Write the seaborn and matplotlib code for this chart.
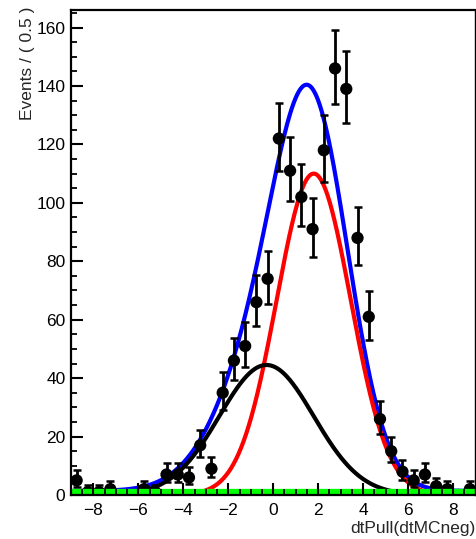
import numpy as np
import pandas as pd
import matplotlib
matplotlib.use("Agg")
import matplotlib.pyplot as plt
from matplotlib.ticker import MultipleLocator
import seaborn as sns

# ---- data ----
bin_centers = np.arange(-8.75, 9.0, 0.5)
counts = [5, 1, 1, 2, 0, 0, 2, 1, 7, 7, 6, 17, 9, 35, 46, 51, 66, 74,
          122, 111, 102, 91, 118, 146, 139, 88, 61, 26, 15, 8, 5, 7, 3, 2, 0, 2]

# fit components (gaussian parameters)
sig_amp, sig_mean, sig_sigma = 110.0, 1.8, 1.65      # red
bkg_amp, bkg_mean, bkg_sigma = 44.5, -0.3, 2.1       # black
flat_level = 1.4                                      # green

x_label = "dtPull(dtMCneg)"
y_label = "Events / ( 0.5 )"
x_range = (-9, 9)
y_range = (0, 166)

# ---- derived ----
n = np.array(counts, dtype=float)
err_lo = np.where(n > 0, n - n * (1 - 1 / (9 * np.maximum(n, 1)) - 1 / (3 * np.sqrt(np.maximum(n, 1)))) ** 3, 0.0)
err_hi = np.where(n > 0, np.sqrt(n + 0.75) + 1, 1.148)

xs = np.linspace(x_range[0], x_range[1], 800)
red = sig_amp * np.exp(-0.5 * ((xs - sig_mean) / sig_sigma) ** 2)
black = bkg_amp * np.exp(-0.5 * ((xs - bkg_mean) / bkg_sigma) ** 2)
green = np.full_like(xs, flat_level)
blue = red + black + green
curves = pd.DataFrame({"x": xs, "red": red, "black": black, "green": green, "blue": blue})
pts = pd.DataFrame({"x": bin_centers, "y": n})

sns.set_style("white")
plt.rcParams["font.family"] = ["Liberation Sans", "DejaVu Sans"]

fig = plt.figure(figsize=(4.77, 5.39), dpi=100)
W, H = 477, 539
ax = fig.add_axes([71 / W, 1 - 495 / H, (475.5 - 71) / W, (495 - 10) / H])

sns.lineplot(data=curves, x="x", y="blue", color=(0, 0, 1), lw=3, ax=ax, zorder=2)
sns.lineplot(data=curves, x="x", y="red", color=(1, 0, 0), lw=3, ax=ax, zorder=2.1)
sns.lineplot(data=curves, x="x", y="black", color="black", lw=3, ax=ax, zorder=2.2)

ax.errorbar(pts["x"], pts["y"], yerr=[err_lo, err_hi], fmt="none", ecolor="black",
            elinewidth=2, capsize=2.6, capthick=1.8, zorder=3)
sns.scatterplot(data=pts, x="x", y="y", color="black", s=78, marker="o",
                edgecolor="none", ax=ax, zorder=4)

sns.lineplot(data=curves, x="x", y="green", color=(0, 1, 0), lw=3.8, ax=ax, zorder=5)

ax.set_xlim(*x_range)
ax.set_ylim(*y_range)
ax.xaxis.set_major_locator(MultipleLocator(2))
ax.xaxis.set_minor_locator(MultipleLocator(0.5))
ax.yaxis.set_major_locator(MultipleLocator(20))
ax.yaxis.set_minor_locator(MultipleLocator(5))
ax.tick_params(which="both", direction="in", top=False, right=False,
               bottom=True, left=True, colors="black", labelsize=12.5)
ax.tick_params(which="major", length=8.5, width=1.5)
ax.tick_params(which="minor", length=4.3, width=1.3)
ax.tick_params(axis="x", pad=6)
ax.tick_params(axis="y", pad=4)
ax.xaxis.set_zorder(6)
ax.yaxis.set_zorder(6)
for s in ["left", "bottom", "top"]:
    ax.spines[s].set_linewidth(1.6)
    ax.spines[s].set_color("black")
    ax.spines[s].set_zorder(7)
ax.spines["right"].set_linewidth(1.0)
ax.spines["right"].set_color("black")
ax.spines["right"].set_zorder(7)
ax.set_xlabel("")
ax.set_ylabel("")

fig.text(476 / W, 1 - 528 / H, x_label, ha="right", va="center", fontsize=12.5)
fig.text(28 / W, 1 - 7 / H, y_label, ha="center", va="top", rotation=90, fontsize=12.5)

fig.savefig("out.png", dpi=100)
